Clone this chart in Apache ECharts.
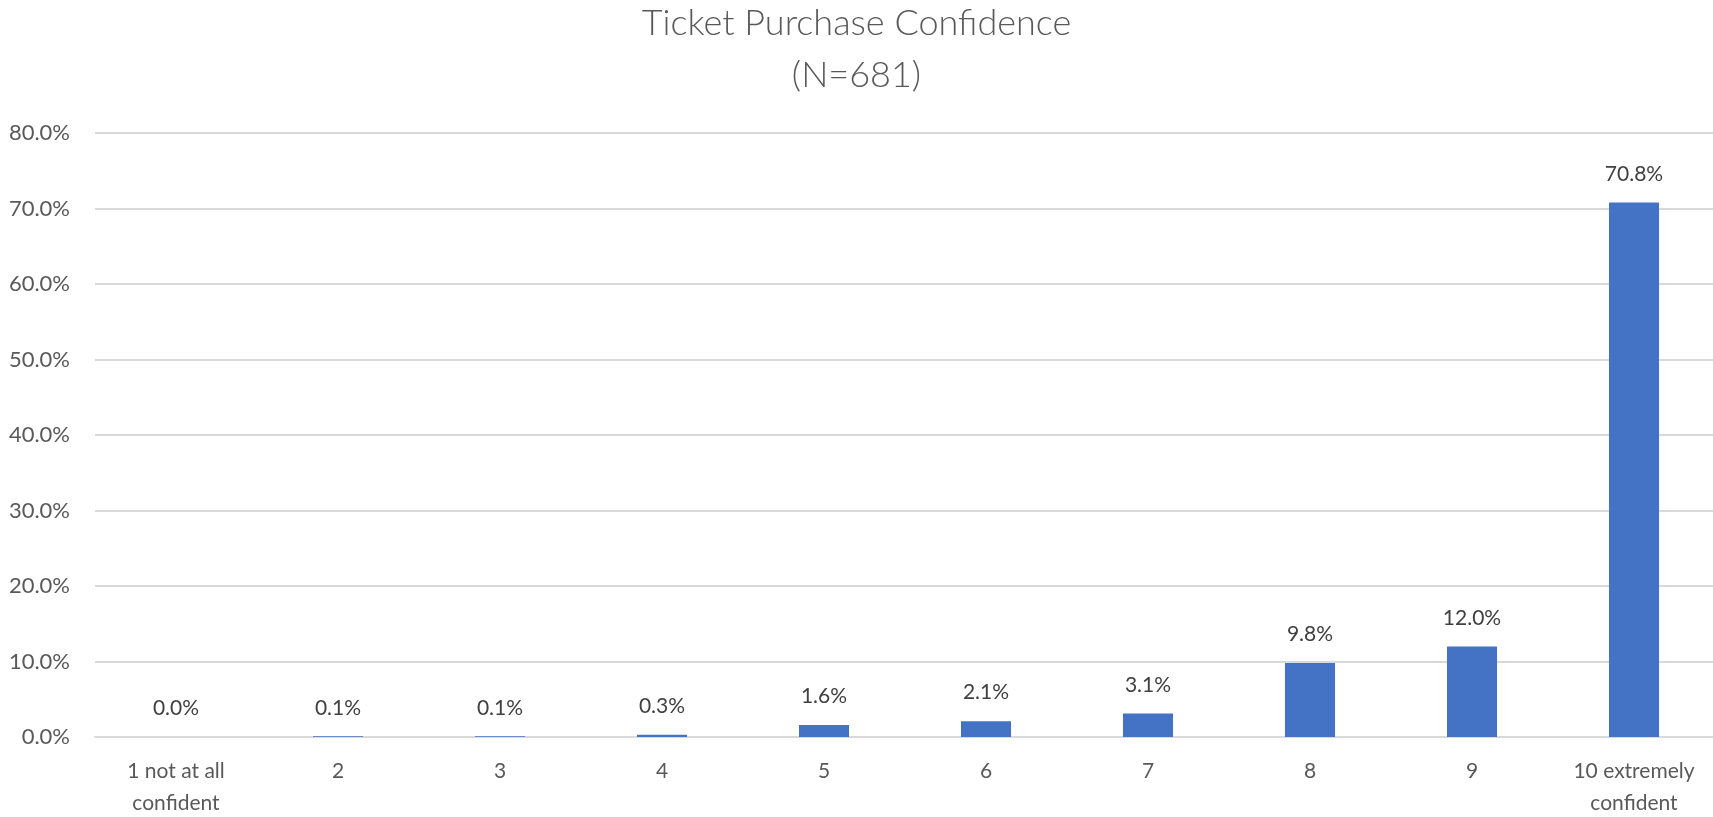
<!DOCTYPE html>
<html>
<head>
  <meta charset="utf-8">
  <script src="https://cdn.jsdelivr.net/npm/echarts@6/dist/echarts.min.js"></script>
  <style>
    html, body { margin: 0; padding: 0; background: #fff; }
    #main { width: 1713px; height: 817px; }
  </style>
</head>
<body>
<div id="main"></div>
<script>
  var categories = ['1 not at all\nconfident', '2', '3', '4', '5', '6', '7', '8', '9', '10 extremely\nconfident'];
  var shares = [0.0, 0.1, 0.1, 0.3, 1.6, 2.1, 3.1, 9.8, 12.0, 70.8];
  var titleText = 'Ticket Purchase Confidence\n(N=681)';

  var font = 'Lato, "Open Sans", sans-serif';
  var chart = echarts.init(document.getElementById('main'));
  chart.setOption({
    animation: false,
    title: {
      text: titleText,
      left: 'center',
      top: -8,
      textStyle: {
        fontFamily: font,
        fontWeight: 300,
        fontSize: 36,
        lineHeight: 52,
        color: '#595959'
      }
    },
    grid: { left: 95, right: -2, top: 133, bottom: 80, containLabel: false, outerBoundsMode: 'none' },
    xAxis: {
      type: 'category',
      data: categories,
      axisLine: { lineStyle: { color: '#d9d9d9', width: 2 } },
      axisTick: { show: false },
      axisLabel: {
        fontFamily: font,
        fontSize: 21,
        lineHeight: 32,
        color: '#595959',
        margin: 18,
        interval: 0
      }
    },
    yAxis: {
      type: 'value',
      min: 0,
      max: 80,
      interval: 10,
      axisLine: { show: false },
      axisTick: { show: false },
      splitLine: { lineStyle: { color: '#d9d9d9', width: 2 } },
      axisLabel: {
        fontFamily: font,
        fontSize: 22,
        color: '#595959',
        margin: 25,
        formatter: function (v) { return v.toFixed(1) + '%'; }
      }
    },
    series: [{
      type: 'bar',
      data: shares,
      barWidth: '30.9%',
      itemStyle: { color: '#4472C4' },
      label: {
        show: true,
        position: 'top',
        distance: 18,
        fontFamily: font,
        fontSize: 21,
        color: '#404040',
        formatter: function (p) { return p.value.toFixed(1) + '%'; }
      }
    }]
  });
</script>
</body>
</html>
